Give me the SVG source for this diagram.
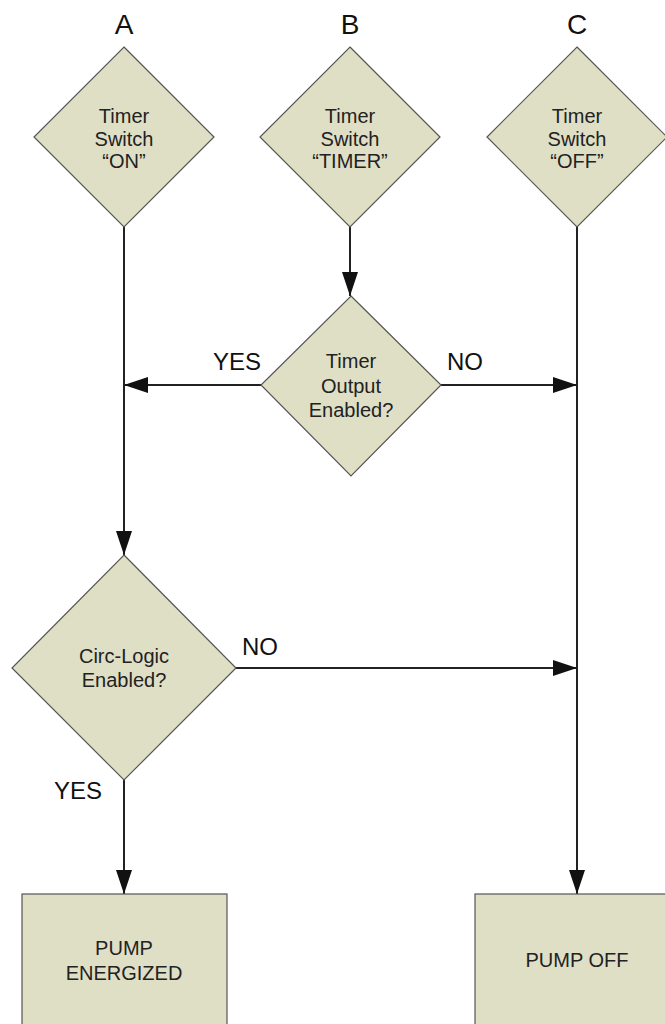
<svg xmlns="http://www.w3.org/2000/svg" width="665" height="1024" viewBox="0 0 665 1024">
<style>
.shape{fill:#dfdfc6;stroke:#555;stroke-width:1.2}
.t{font-family:"Liberation Sans",Arial,sans-serif;font-size:20px;fill:#222;text-anchor:middle}
.lbl{font-family:"Liberation Sans",Arial,sans-serif;font-size:24px;fill:#111;text-anchor:middle}
.hdr{font-family:"Liberation Sans",Arial,sans-serif;font-size:28px;fill:#111;text-anchor:middle}
.ln{stroke:#222;stroke-width:2;fill:none}
</style>
<defs>
<marker id="ah" viewBox="0 0 24 16" refX="24" refY="8" markerWidth="24" markerHeight="16" markerUnits="userSpaceOnUse" orient="auto">
<path d="M0,0 L24,8 L0,16 Z" fill="#111"/>
</marker>
</defs>
<g id="headers">
<text class="hdr" x="124" y="34">A</text>
<text class="hdr" x="350" y="34">B</text>
<text class="hdr" x="577" y="34">C</text>
</g>
<g id="connectors">
<line class="ln" x1="124" y1="227" x2="124" y2="555" marker-end="url(#ah)"/>
<line class="ln" x1="350" y1="227" x2="350" y2="296" marker-end="url(#ah)"/>
<line class="ln" x1="577" y1="227" x2="577" y2="894" marker-end="url(#ah)"/>
<line class="ln" x1="261" y1="385" x2="124" y2="385" marker-end="url(#ah)"/>
<line class="ln" x1="441" y1="385" x2="577" y2="385" marker-end="url(#ah)"/>
<line class="ln" x1="236" y1="668" x2="577" y2="668" marker-end="url(#ah)"/>
<line class="ln" x1="124" y1="780" x2="124" y2="894" marker-end="url(#ah)"/>
<text class="lbl" x="237" y="370">YES</text>
<text class="lbl" x="465" y="370">NO</text>
<text class="lbl" x="260" y="655">NO</text>
<text class="lbl" x="78" y="799">YES</text>
</g>
<g id="nodeA">
<polygon class="shape" points="124,47 214,137 124,227 34,137"/>
<text class="t" x="124" y="123">Timer</text>
<text class="t" x="124" y="146">Switch</text>
<text class="t" x="124" y="168">“ON”</text>
</g>
<g id="nodeB">
<polygon class="shape" points="350,47 440,137 350,227 260,137"/>
<text class="t" x="350" y="123">Timer</text>
<text class="t" x="350" y="146">Switch</text>
<text class="t" x="350" y="168">“TIMER”</text>
</g>
<g id="nodeC">
<polygon class="shape" points="577,47 667,137 577,227 487,137"/>
<text class="t" x="577" y="123">Timer</text>
<text class="t" x="577" y="146">Switch</text>
<text class="t" x="577" y="168">“OFF”</text>
</g>
<g id="nodeTimerOutput">
<polygon class="shape" points="351,296 441,385 351,476 261,385"/>
<text class="t" x="351" y="368">Timer</text>
<text class="t" x="351" y="393">Output</text>
<text class="t" x="351" y="417">Enabled?</text>
</g>
<g id="nodeCirc">
<polygon class="shape" points="124,555 236,668 124,780 12,668"/>
<text class="t" x="124" y="663">Circ-Logic</text>
<text class="t" x="124" y="687">Enabled?</text>
</g>
<g id="nodePumpEnergized">
<rect class="shape" x="22" y="894" width="205" height="140"/>
<text class="t" x="124" y="955">PUMP</text>
<text class="t" x="124" y="980">ENERGIZED</text>
</g>
<g id="nodePumpOff">
<rect class="shape" x="475" y="894" width="200" height="140"/>
<text class="t" x="577" y="967">PUMP OFF</text>
</g>
</svg>
